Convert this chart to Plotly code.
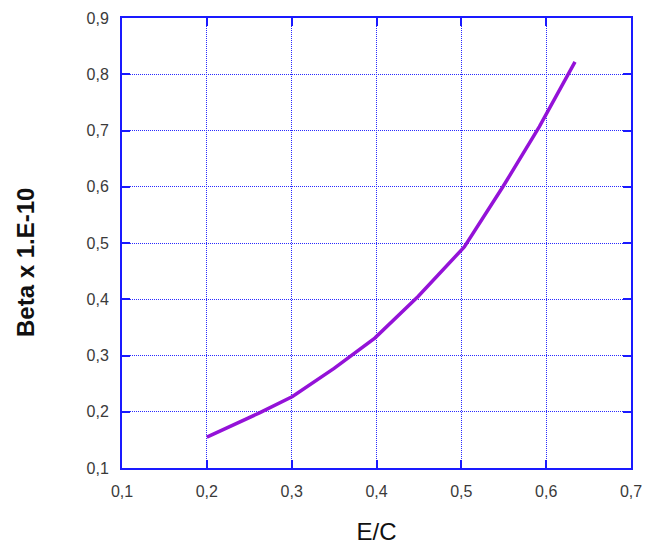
import plotly.graph_objects as go

ec = [0.200, 0.262, 0.301, 0.350, 0.398, 0.449, 0.5035, 0.549, 0.592, 0.634]
beta = [0.155, 0.198, 0.227, 0.277, 0.331, 0.405, 0.493, 0.600, 0.707, 0.822]

x_ticks = [0.1, 0.2, 0.3, 0.4, 0.5, 0.6, 0.7]
y_ticks = [0.1, 0.2, 0.3, 0.4, 0.5, 0.6, 0.7, 0.8, 0.9]
x_labels = ["0,1", "0,2", "0,3", "0,4", "0,5", "0,6", "0,7"]
y_labels = ["0,1", "0,2", "0,3", "0,4", "0,5", "0,6", "0,7", "0,8", "0,9"]
x_title = "E/C"
y_title = "Beta x 1.E-10"

fig = go.Figure()
fig.add_trace(go.Scatter(x=ec, y=beta, mode="lines",
                         line=dict(color="#9412D8", width=3.5),
                         showlegend=False, hoverinfo="skip"))

axis_common = dict(
    showline=True, linecolor="#1a1aff", linewidth=2, mirror="ticks",
    ticks="inside", ticklen=8, tickwidth=2, tickcolor="#1a1aff",
    showgrid=True, gridcolor="#2a2aff", griddash="1px,1px", gridwidth=1,
    zeroline=False, automargin=False,
    tickfont=dict(family="Liberation Sans, Arial", size=16, color="#3a3a3a"),
)

H = 550
fig.update_layout(
    width=647, height=H,
    margin=dict(l=122, r=16, t=18, b=82),
    plot_bgcolor="white", paper_bgcolor="white",
    xaxis=dict(range=[0.1, 0.7], tickvals=x_ticks, ticktext=x_labels,
               title=dict(text=x_title, standoff=24,
                          font=dict(family="Liberation Sans, Arial", size=24, color="#111111")),
               ticklabelstandoff=8,
               **axis_common),
    yaxis=dict(range=[0.1, 0.9], tickvals=y_ticks, ticktext=y_labels,
               ticklabelstandoff=8,
               **axis_common),
    annotations=[dict(text="<b>" + y_title + "</b>", textangle=-90, showarrow=False,
                      xref="paper", yref="paper",
                      x=(25 - 122) / (647 - 122 - 16), xanchor="center",
                      y=(H - 82 - 263) / (H - 18 - 82), yanchor="middle",
                      font=dict(family="Liberation Sans, Arial", size=24, color="#111111"))],
)

fig.write_html("out.html", config={"displayModeBar": False},
               post_script="document.body.style.margin='0';document.body.style.overflow='hidden';")
